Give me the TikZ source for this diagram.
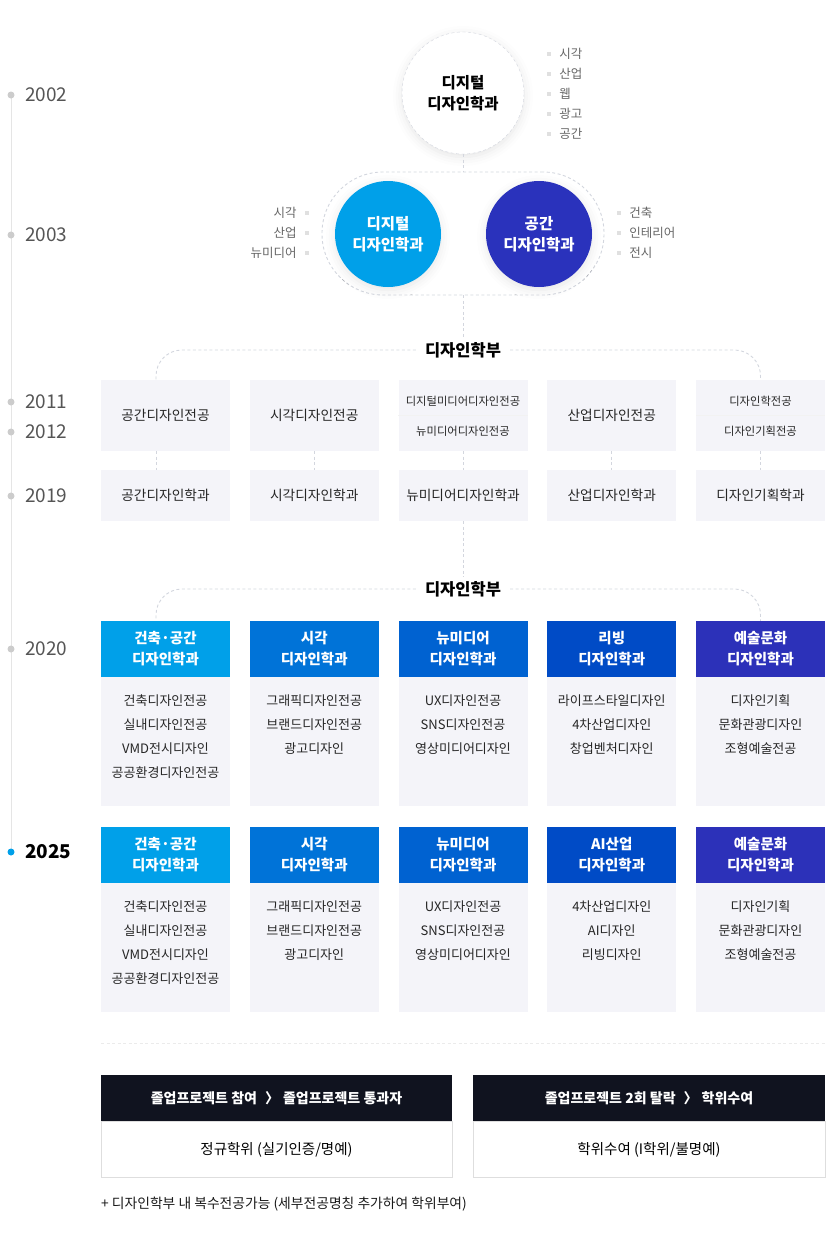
\documentclass[tikz,border=0pt]{standalone}
\usepackage{fontspec}
\setmainfont{Noto Sans CJK KR}
\usepackage{tikz}
\usetikzlibrary{positioning,shadows.blur}

\definecolor{skyblue}{HTML}{00A0E9}
\definecolor{deepblue}{HTML}{2A32BC}
\definecolor{col1}{HTML}{00A0E9}
\definecolor{col2}{HTML}{0073D8}
\definecolor{col3}{HTML}{0062D1}
\definecolor{col4}{HTML}{004BC6}
\definecolor{col5}{HTML}{2C31B9}
\definecolor{cellgray}{HTML}{F4F4F9}
\definecolor{dashgray}{HTML}{D3D6DE}
\definecolor{yeargray}{HTML}{555555}
\definecolor{navy}{HTML}{10131F}

\tikzset{
  yearlabel/.style={anchor=west, text=yeargray, font=\fontsize{19}{19}\selectfont},
  yeardot/.style={circle, fill=black!20, minimum size=7pt},
  dashline/.style={draw=dashgray, dash pattern=on 3pt off 2.5pt, line width=0.9pt},
  cell/.style={fill=cellgray, minimum width=129pt, text=black!85, font=\fontsize{13.7}{13.7}\selectfont},
  celltext/.style={text=black!85, font=\fontsize{13}{13}\selectfont},
  headcell/.style={minimum width=129pt, minimum height=56pt, text=white, align=center, font=\bfseries\fontsize{14.5}{21}\selectfont},
  bigdot/.style={circle, minimum size=106pt, text=white, align=center, font=\bfseries\fontsize{15.5}{21}\selectfont,
    blur shadow={shadow xshift=0pt, shadow yshift=-3pt, shadow blur radius=9pt, shadow opacity=10}},
  tag/.style={text=black!60, font=\fontsize{12.5}{12.5}\selectfont},
  tagmark/.style={fill=black!12, minimum size=4pt},
  deptlabel/.style={fill=white, inner xsep=9pt, inner ysep=4pt, font=\bfseries\fontsize{16.5}{16.5}\selectfont},
}

\begin{document}
\begin{tikzpicture}[x=1pt, y=-1pt, every node/.style={inner sep=0pt}]
\useasboundingbox (0,0) rectangle (840,1240);

% Timeline on the left
\coordinate (t-top) at (11,95);
\coordinate (t-bot) at (11,852);
\draw[black!10, line width=1pt] (t-top) -- (t-bot);
\foreach \yr/\yy in {2002/95, 2003/235, 2011/402, 2012/432, 2019/496, 2020/649} {
  \node[yeardot] (dot\yr) at (11,\yy) {};
  \node[yearlabel] (yr\yr) at (25,\yy) {\yr};
}
\node[yeardot, fill=skyblue] (dot2025) at (11,852) {};
\node[yearlabel, text=black, font=\bfseries\fontsize{19}{19}\selectfont] (yr2025) at (25,852) {2025};

% 2002: one department
\node[bigdot, minimum size=122pt, fill=white, draw=dashgray, dash pattern=on 3pt off 2.5pt, text=black] (dig02) at (463,93) {디지털\\디자인학과};
\foreach \t [count=\k] in {시각,산업,웹,광고,공간} {
  \node[tagmark] (m02-\k) at (549,{34+20*\k}) {};
  \node[tag, right=8pt of m02-\k] (t02-\k) {\t};
}

% 2003: split into two
\node[draw=dashgray, dash pattern=on 3pt off 2.5pt, line width=0.9pt, rounded corners=61pt,
  minimum width=282pt, minimum height=123pt] (pair03) at (463,233.5) {};
\node[bigdot, fill=skyblue] (dig03) at (388,234) {디지털\\디자인학과};
\node[bigdot, fill=deepblue] (spa03) at (539,234) {공간\\디자인학과};
\foreach \t [count=\k] in {시각,산업,뉴미디어} {
  \node[tagmark] (ml03-\k) at (307,{193+20*\k}) {};
  \node[tag, left=8pt of ml03-\k] (tl03-\k) {\t};
}
\foreach \t [count=\k] in {건축,인테리어,전시} {
  \node[tagmark] (mr03-\k) at (619,{193+20*\k}) {};
  \node[tag, right=8pt of mr03-\k] (tr03-\k) {\t};
}
\draw[dashline] (dig02) -- (pair03);

% 2011 / 2012 / 2019: school of design
\node[deptlabel] (dept11) at (463,350) {디자인학부};
\draw[dashline] (pair03.south) -- (dept11.north);
\foreach \c/\lab in {1/공간디자인전공, 2/시각디자인전공, 3/{}, 4/산업디자인전공, 5/{}} {
  \pgfmathsetmacro{\cx}{165.5+148.75*(\c-1)}
  \node[cell, minimum height=71pt] (m11-\c) at (\cx,415.5) {\lab};
}
\foreach \c/\ta/\tb in {3/디지털미디어디자인전공/뉴미디어디자인전공, 5/디자인학전공/디자인기획전공} {
  \draw[black!5, line width=0.6pt] (m11-\c.west) -- (m11-\c.east);
  \node[celltext, font=\fontsize{11.3}{11.3}\selectfont] (m11-\c-up) at ([yshift=14.5pt]m11-\c.center) {\ta};
  \node[celltext, font=\fontsize{11.3}{11.3}\selectfont] (m11-\c-lo) at ([yshift=-15.5pt]m11-\c.center) {\tb};
}
\foreach \c/\lab in {1/공간디자인학과, 2/시각디자인학과, 3/뉴미디어디자인학과, 4/산업디자인학과, 5/디자인기획학과} {
  \pgfmathsetmacro{\cx}{165.5+148.75*(\c-1)}
  \node[cell, minimum height=51pt] (m19-\c) at (\cx,495.5) {\lab};
}
\foreach \c in {2,...,5} {
  \draw[dashline] (m11-\c.south) -- (m19-\c.north);
}
\draw[dashline] ([xshift=-9.5pt]m11-1.south) -- ([xshift=-9.5pt]m19-1.north);
\draw[dashline, rounded corners=26pt] (dept11.west) -| ([xshift=-9.5pt]m11-1.north);
\draw[dashline, rounded corners=26pt] (dept11.east) -| (m11-5.north);

% 2020: departments with majors
\node[deptlabel] (dept20) at (463,589) {디자인학부};
\draw[dashline] (m19-3.south) -- (dept20.north);
\foreach \c/\hd/\items in {
  1/{건축·공간}/{건축디자인전공,실내디자인전공,VMD전시디자인,공공환경디자인전공},
  2/시각/{그래픽디자인전공,브랜드디자인전공,광고디자인},
  3/뉴미디어/{UX디자인전공,SNS디자인전공,영상미디어디자인},
  4/리빙/{라이프스타일디자인,4차산업디자인,창업벤처디자인},
  5/예술문화/{디자인기획,문화관광디자인,조형예술전공}} {
  \pgfmathsetmacro{\cx}{165.5+148.75*(\c-1)}
  \node[headcell, fill=col\c] (h20-\c) at (\cx,649) {\hd\\디자인학과};
  \node[cell, minimum height=129pt, below=0pt of h20-\c] (b20-\c) {};
  \foreach \t [count=\k] in \items {
    \node[celltext] (b20-\c-\k) at (\cx,{677+24*\k}) {\t};
  }
}
\draw[dashline, rounded corners=26pt] (dept20.west) -| ([xshift=-9.5pt]h20-1.north);
\draw[dashline, rounded corners=26pt] (dept20.east) -| (h20-5.north);

% 2025: current departments
\foreach \c/\hd/\items in {
  1/{건축·공간}/{건축디자인전공,실내디자인전공,VMD전시디자인,공공환경디자인전공},
  2/시각/{그래픽디자인전공,브랜드디자인전공,광고디자인},
  3/뉴미디어/{UX디자인전공,SNS디자인전공,영상미디어디자인},
  4/AI산업/{4차산업디자인,AI디자인,리빙디자인},
  5/예술문화/{디자인기획,문화관광디자인,조형예술전공}} {
  \pgfmathsetmacro{\cx}{165.5+148.75*(\c-1)}
  \node[headcell, fill=col\c] (h25-\c) at (\cx,855) {\hd\\디자인학과};
  \node[cell, minimum height=129pt, below=0pt of h25-\c] (b25-\c) {};
  \foreach \t [count=\k] in \items {
    \node[celltext] (b25-\c-\k) at (\cx,{883+24*\k}) {\t};
  }
}

% Graduation rules
\coordinate (sepL) at (101,1043);
\coordinate (sepR) at (825,1043);
\draw[dashline, draw=black!8] (sepL) -- (sepR);
\foreach \s/\cx/\bw/\hd/\bd in {
  L/276.5/351/{졸업프로젝트 참여\hspace{8pt}〉\hspace{4pt}졸업프로젝트 통과자}/{정규학위 (실기인증/명예)},
  R/649/352/{졸업프로젝트 2회 탈락\hspace{8pt}〉\hspace{4pt}학위수여}/{학위수여 (I학위/불명예)}} {
  \node[fill=navy, minimum width=\bw pt, minimum height=46pt, text=white,
    font=\bfseries\fontsize{14}{14}\selectfont] (rule\s-h) at (\cx,1098) {\hd};
  \node[draw=black!13, fill=white, minimum width=\bw pt, minimum height=56pt,
    font=\fontsize{14.5}{14.5}\selectfont, below=0pt of rule\s-h] (rule\s-b) {\bd};
}
\node[anchor=west, text=black!90, font=\fontsize{13.8}{13.8}\selectfont] (note) at (101,1204)
  {+ 디자인학부 내 복수전공가능 (세부전공명칭 추가하여 학위부여)};
\end{tikzpicture}
\end{document}
